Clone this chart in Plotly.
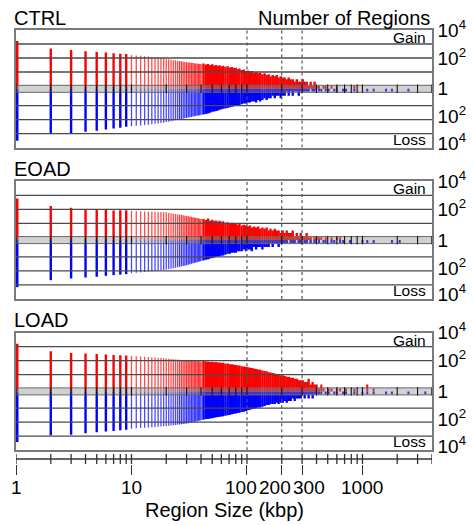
import math
import plotly.graph_objects as go

# ---------------- data (counts of regions per size bin, kbp) ----------------
sizes = (list(range(1, 41)) +
         [42, 44, 46, 48, 50, 52, 54, 56, 58, 60, 62, 65, 68, 71, 74, 77, 80, 83, 86, 90,
          94, 98, 102, 106, 110, 115, 120, 125, 130, 136, 142, 148, 154, 160, 167, 174, 181, 188, 196, 204,
          212, 221, 230, 239, 249, 259, 270, 281, 292, 304, 316, 329, 342, 356, 370, 385, 400] +
         [420, 440, 460, 480, 510, 540, 570, 600, 640, 680, 720, 780, 850, 920, 1000, 1100, 1250, 1400,
          1600, 1800, 2100, 2500, 3000, 3500])

ctrl_gain = [1660, 470, 370, 300, 270, 245, 220, 205, 190, 165,
             150, 142, 135, 126, 120, 112, 108, 100, 95, 82,
             80, 74, 70, 68, 63, 60, 58, 55, 52, 50,
             48, 47, 45, 44, 42, 41, 40, 39, 38, 37,
             40, 34, 38, 30, 36, 29, 32, 27, 30, 25, 28, 24, 26, 21, 23, 19, 20, 16, 18, 14,
             15, 12, 13, 11, 12, 9, 10, 8, 9, 7, 8, 6, 7, 5, 6, 5, 6, 4, 5, 4,
             4, 3, 4, 3, 3, 2, 3, 2, 2, 3, 2, 2, 1, 2, 1, 2, 1,
             1, 0, 1, 1, 0, 1, 0, 1, 0, 0, 0, 0, 1, 0, 0, 0, 0, 0, 0, 0, 0, 0, 0, 0]
ctrl_loss = [3300, 1000, 890, 725, 615, 510, 440, 380, 330, 300,
             280, 260, 245, 230, 215, 200, 190, 175, 165, 150,
             140, 130, 120, 112, 105, 98, 92, 86, 80, 76,
             72, 68, 64, 60, 58, 55, 52, 50, 48, 46,
             44, 40, 36, 33, 28, 26, 24, 22, 20, 18, 17, 16, 15, 13, 12, 11, 10, 9, 9, 8,
             7, 7, 6, 6, 5, 5, 6, 4, 5, 4, 3, 4, 3, 3, 2, 3, 2, 2, 3, 2,
             2, 1, 2, 1, 2, 1, 1, 2, 1, 1, 1, 1, 1, 0, 1, 1, 0,
             1, 1, 0, 1, 1, 0, 1, 1, 0, 1, 1, 0, 1, 0, 0, 1, 1, 0, 1, 1, 0, 1, 0, 0]

eoad_gain = [600, 170, 130, 102, 93, 89, 83, 85, 87, 76,
             74, 72, 70, 68, 68, 66, 65, 64, 63, 62,
             55, 52, 48, 46, 44, 40, 40, 37, 35, 33,
             32, 30, 29, 27, 26, 25, 24, 22, 21, 20,
             20, 17, 22, 15, 18, 14, 16, 13, 15, 12, 14, 11, 12, 10, 11, 9, 10, 8, 9, 7,
             8, 7, 6, 7, 5, 6, 5, 6, 4, 5, 4, 5, 3, 4, 3, 4, 3, 3, 2, 3,
             2, 3, 2, 2, 3, 1, 2, 1, 2, 1, 1, 2, 1, 1, 0, 1, 1,
             1, 1, 0, 1, 0, 1, 0, 1, 1, 0, 0, 0, 0, 0, 0, 0, 0, 0, 0, 0, 0, 0, 0, 0]
eoad_loss = [1440, 457, 347, 295, 263, 224, 200, 185, 170, 145,
             135, 128, 120, 112, 106, 100, 95, 90, 85, 79,
             74, 70, 65, 60, 56, 52, 48, 45, 42, 39,
             36, 34, 31, 29, 27, 25, 24, 22, 21, 20,
             18, 16, 15, 13, 12, 11, 10, 9, 9, 8, 8, 7, 6, 6, 5, 5, 5, 4, 4, 4,
             3, 4, 3, 3, 4, 2, 3, 2, 2, 3, 2, 2, 2, 1, 2, 1, 1, 2, 1, 1,
             1, 1, 0, 1, 1, 1, 0, 1, 1, 0, 1, 1, 0, 1, 0, 1, 0,
             1, 0, 1, 1, 0, 1, 1, 0, 1, 1, 0, 1, 0, 0, 1, 1, 1, 0, 0, 1, 1, 0, 0, 0]

load_gain = [1620, 468, 355, 316, 300, 270, 250, 240, 235, 214,
             205, 198, 190, 182, 175, 168, 160, 155, 148, 140,
             135, 130, 125, 122, 118, 115, 112, 110, 108, 105,
             103, 101, 99, 97, 95, 94, 92, 91, 90, 88,
             92, 85, 88, 80, 84, 76, 79, 72, 74, 68, 70, 63, 62, 56, 55, 50, 49, 45, 44, 40,
             38, 36, 34, 31, 30, 27, 25, 23, 22, 20, 18, 17, 15, 14, 13, 12, 11, 10, 9, 9,
             8, 7, 7, 6, 6, 5, 5, 4, 4, 4, 3, 3, 5, 2, 3, 2, 2,
             1, 2, 1, 0, 1, 1, 0, 1, 1, 0, 1, 0, 1, 0, 0, 2, 1, 0, 0, 0, 0, 0, 0, 0]
load_loss = [2570, 850, 776, 617, 525, 470, 420, 380, 350, 290,
             275, 262, 250, 238, 228, 218, 208, 200, 193, 186,
             178, 170, 164, 158, 152, 146, 140, 135, 130, 126,
             118, 110, 104, 98, 92, 88, 84, 80, 76, 72,
             66, 60, 58, 54, 52, 48, 45, 43, 41, 39, 37, 35, 32, 30, 27, 25, 24, 22, 21, 19,
             18, 16, 14, 13, 12, 11, 10, 9, 9, 8, 7, 6, 6, 5, 5, 5, 4, 5, 4, 4,
             3, 4, 3, 3, 2, 3, 2, 2, 2, 1, 2, 1, 2, 1, 2, 1, 1,
             1, 1, 0, 1, 1, 0, 1, 1, 0, 1, 1, 0, 1, 0, 1, 1, 1, 0, 1, 1, 0, 1, 0, 1]

panel_names = ["CTRL", "EOAD", "LOAD"]
axis_ticks = [1, 2, 3, 4, 5, 6, 7, 8, 9, 10, 20, 30, 40, 50, 60, 70, 80, 90,
              100, 200, 300, 400, 500, 600, 700, 800, 900, 1000, 2000, 3000, 4000]
major_ticks = [1, 10, 100, 200, 300, 1000]
major_labels = ["1", "10", "100", "200", "300", "1000"]
label_shift = [0, 0, -6, -7, 7, 0]          # px nudges so 100/200/300 don't collide
marker_sizes = [100, 200, 300]
y_tickvals = [4.2, 2.2, 0, -2.0, -3.9]
y_ticktext = ["10<sup>4</sup>", "10<sup>2</sup>", "1", "10<sup>2</sup>", "10<sup>4</sup>"]
grid_levels = [1.2, 2.2, 3.2, -1.2, -2.2, -3.2]

# ---------------- styling ----------------
FONT = "Liberation Sans, Arial, sans-serif"
G = 0.2          # offset (decades) between zero line and count 1
YMAX = 4.2
XMIN, XMAX = 1, 4000
# (lo, hi, width, alpha)
groups = [(1, 1, 5.0, 1.0), (2, 9, 2.4, 1.0), (10, 25, 1.3, 0.7), (26, 40, 1.3, 0.8),
          (41, 400, 2.4, 1.0), (401, 5000, 2.0, 1.0)]


def segments(xs, cs, sign, lo, hi):
    X, Y = [], []
    for s, c in zip(xs, cs):
        if lo <= s <= hi and c > 0:
            X += [s, s, None]
            Y += [0, sign * (G + math.log10(c)), None]
    return X, Y


fig = go.Figure()
data = [(ctrl_gain, ctrl_loss), (eoad_gain, eoad_loss), (load_gain, load_loss)]

for i, (gain, loss) in enumerate(data, start=1):
    xa, ya = ("x" if i == 1 else f"x{i}"), ("y" if i == 1 else f"y{i}")
    for lo, hi, w, a in groups:
        for vals, sign, rgb in ((gain, 1, "255,0,0"), (loss, -1, "0,0,255")):
            X, Y = segments(sizes, vals, sign, lo, hi)
            fig.add_trace(go.Scatter(x=X, y=Y, mode="lines",
                                     line=dict(color=f"rgba({rgb},{a})", width=w),
                                     xaxis=xa, yaxis=ya, hoverinfo="skip"))
    gx, gy = [], []
    for lv in grid_levels:
        gx += [XMIN, XMAX, None]
        gy += [lv, lv, None]
    fig.add_trace(go.Scatter(x=gx, y=gy, mode="lines", line=dict(color="#4a4a4a", width=1.3),
                             xaxis=xa, yaxis=ya, hoverinfo="skip"))
    dx, dy = [], []
    for m in marker_sizes:
        dx += [m, m, None]
        dy += [-YMAX, YMAX, None]
    fig.add_trace(go.Scatter(x=dx, y=dy, mode="lines",
                             line=dict(color="#555555", width=1.2, dash="dot"),
                             xaxis=xa, yaxis=ya, hoverinfo="skip"))
    fig.add_trace(go.Scatter(x=[XMIN, XMAX, XMAX, XMIN, XMIN], y=[-0.25, -0.25, 0.25, 0.25, -0.25],
                             mode="lines", fill="toself", fillcolor="rgba(140,140,140,0.4)",
                             line=dict(color="#666666", width=1), xaxis=xa, yaxis=ya, hoverinfo="skip"))
    tx, ty = [], []
    for t in axis_ticks:
        tx += [t, t, None]
        ty += [-0.3, 0.3, None]
    fig.add_trace(go.Scatter(x=tx, y=ty, mode="lines", line=dict(color="#111111", width=1.1),
                             xaxis=xa, yaxis=ya, hoverinfo="skip"))

# bottom axis strip
sx, sy = [XMIN, XMAX, None], [0.5, 0.5, None]
for t in axis_ticks:
    sx += [t, t, None]
    sy += [0, 1, None]
fig.add_trace(go.Scatter(x=sx, y=sy, mode="lines", line=dict(color="#333333", width=1.3),
                         xaxis="x4", yaxis="y4", hoverinfo="skip"))

H_PLOT = 525 - 30 - 61
def dom(top_px, bot_px):
    return [(464 - bot_px) / H_PLOT, (464 - top_px) / H_PLOT]

def py(px):
    return (464 - px) / H_PLOT

domains = [dom(30, 147.6), dom(181.3, 298.9), dom(332.6, 450.2)]

layout = dict(width=474, height=525, margin=dict(l=16, r=42, t=30, b=61, autoexpand=False),
              paper_bgcolor="white", plot_bgcolor="white", showlegend=False,
              font=dict(family=FONT, size=19, color="#000000"))
xr = [math.log10(XMIN), math.log10(XMAX)]
for i in range(1, 4):
    sfx = "" if i == 1 else str(i)
    layout[f"xaxis{sfx}"] = dict(type="log", range=xr, domain=[0, 1], anchor=f"y{sfx}",
                                 showline=True, mirror=True, linecolor="#7a7a7a", linewidth=1.5,
                                 showticklabels=False, ticks="", showgrid=False, zeroline=False,
                                 automargin=False)
    layout[f"yaxis{sfx}"] = dict(range=[-YMAX, YMAX], domain=domains[i - 1], anchor=f"x{sfx}",
                                 side="right", showline=True, mirror=True, linecolor="#7a7a7a",
                                 linewidth=1.5, tickvals=y_tickvals, ticktext=y_ticktext,
                                 ticks="", showgrid=False, zeroline=False, tickfont=dict(size=19),
                                 automargin=False)
layout["xaxis4"] = dict(type="log", range=xr, domain=[0, 1], anchor="y4", showline=False,
                        ticks="outside", ticklen=10, tickwidth=1.3, tickcolor="#333333",
                        tickvals=major_ticks, ticktext=[""] * len(major_ticks),
                        showgrid=False, zeroline=False, automargin=False)
layout["yaxis4"] = dict(range=[0, 1], domain=[0, 10 / H_PLOT], anchor="x4", visible=False)

annotations = []
for i, name in enumerate(panel_names, start=1):
    sfx = "" if i == 1 else str(i)
    annotations.append(dict(text=name, xref="paper", yref=f"y{sfx} domain", x=-0.01, y=1.106,
                            xanchor="left", yanchor="middle", showarrow=False, font=dict(size=20)))
    annotations.append(dict(text="Gain", xref=f"x{sfx} domain", yref=f"y{sfx}", x=0.99, y=3.66,
                            xanchor="right", yanchor="middle", showarrow=False, font=dict(size=15.5)))
    annotations.append(dict(text="Loss", xref=f"x{sfx} domain", yref=f"y{sfx}", x=0.99, y=-3.6,
                            xanchor="right", yanchor="middle", showarrow=False, font=dict(size=15.5)))
annotations.append(dict(text="Number of Regions", xref="paper", yref="y domain", x=1.0, y=1.106,
                        xanchor="right", yanchor="middle", showarrow=False, font=dict(size=20)))
for v, lab, sh in zip(major_ticks, major_labels, label_shift):
    annotations.append(dict(text=lab, xref="x4", yref="paper", x=math.log10(v), y=py(487),
                            xshift=sh, xanchor="center", yanchor="middle", showarrow=False,
                            font=dict(size=19)))
annotations.append(dict(text="Region Size (kbp)", xref="paper", yref="paper", x=(224 - 16) / 416,
                        y=py(510), xanchor="center", yanchor="middle", showarrow=False,
                        font=dict(size=20)))
layout["annotations"] = annotations

fig.update_layout(**layout)
fig.write_html("out.html", config={"displayModeBar": False},
               post_script="document.body.style.margin='0px';")
